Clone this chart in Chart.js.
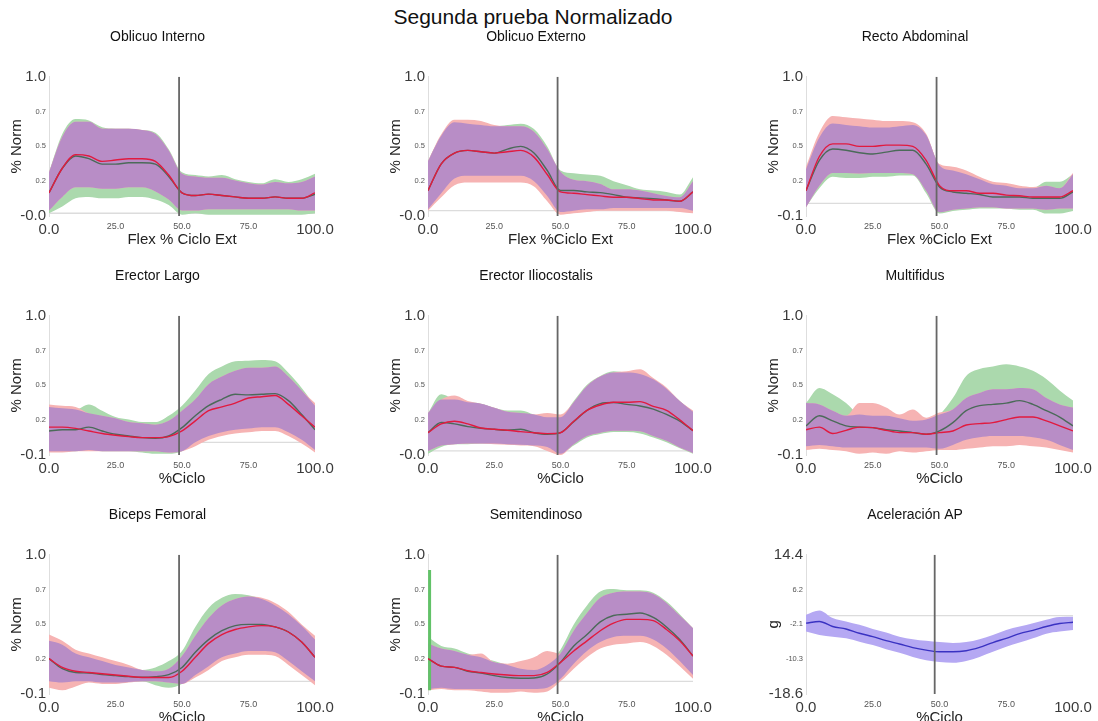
<!DOCTYPE html>
<html>
<head>
<meta charset="utf-8">
<script src="https://cdn.jsdelivr.net/npm/chart.js@4.4.1/dist/chart.umd.min.js"></script>
<style>
  body { margin: 0; background: #fff; width: 1098px; height: 721px; overflow: hidden; position: relative;
         font-family: "Liberation Sans", Arial, sans-serif; }
  #titulo { position: absolute; left: 0; width: 1066px; top: 5px; line-height: 24px; text-align: center;
            font-size: 21px; color: #111; }
  canvas { position: absolute; }
</style>
</head>
<body>
<div id="titulo">Segunda prueba Normalizado</div>
<script>
// % del ciclo (eje x)
const xs = [0, 5, 10, 15, 20, 25, 30, 35, 40, 45, 50, 55, 60, 65, 70, 75, 80, 85, 90, 95, 100];
const xTicks = [0, 25, 50, 75, 100];

// ticks del eje y
const ticksOI = [-0.02, 0.235, 0.49, 0.745, 1.0];
const ticksOE = [-0.04, 0.22, 0.48, 0.74, 1.0];
const ticksEI = [-0.03, 0.2275, 0.485, 0.7425, 1.0];
const ticksN = [-0.1, 0.175, 0.45, 0.725, 1.0];
const ticksAC = [-18.6, -10.35, -2.1, 6.15, 14.4];

// linea de evento (cambio flex/ext)
const eventX = [48.9, 48.9, 48.9, 48.9, 48.9, 48.9, 48.9, 48.9, 48.2];

// Oblicuo Interno
const oiGMean = [0.15,0.33,0.42,0.40,0.36,0.36,0.37,0.37,0.36,0.27,0.15,0.13,0.14,0.13,0.12,0.11,0.11,0.12,0.11,0.11,0.14];
const oiGHi   = [0.30,0.58,0.69,0.68,0.63,0.62,0.62,0.61,0.59,0.47,0.30,0.28,0.27,0.28,0.25,0.23,0.22,0.25,0.23,0.25,0.29];
const oiGLo   = [0.00,0.05,0.11,0.12,0.11,0.11,0.12,0.12,0.10,0.06,-0.01,0.00,-0.01,-0.01,-0.01,-0.01,-0.01,-0.01,-0.01,-0.01,0.00];
const oiRMean = [0.15,0.33,0.43,0.42,0.38,0.39,0.40,0.40,0.38,0.28,0.15,0.13,0.14,0.13,0.12,0.11,0.11,0.12,0.11,0.11,0.15];
const oiRHi   = [0.30,0.56,0.67,0.67,0.62,0.62,0.62,0.61,0.58,0.46,0.29,0.27,0.26,0.26,0.24,0.22,0.21,0.23,0.22,0.23,0.27];
const oiRLo   = [0.02,0.12,0.19,0.19,0.18,0.18,0.19,0.19,0.16,0.10,0.02,0.02,0.03,0.03,0.03,0.03,0.03,0.03,0.03,0.02,0.02];

// Oblicuo Externo
const oeGMean = [0.15,0.35,0.43,0.45,0.44,0.43,0.46,0.48,0.43,0.30,0.15,0.15,0.14,0.135,0.12,0.10,0.095,0.09,0.08,0.07,0.14];
const oeGHi   = [0.37,0.56,0.66,0.65,0.64,0.63,0.64,0.65,0.61,0.48,0.30,0.28,0.27,0.26,0.22,0.19,0.16,0.15,0.14,0.12,0.25];
const oeGLo   = [0.01,0.13,0.24,0.26,0.26,0.26,0.26,0.26,0.22,0.11,-0.01,0.00,0.01,0.01,0.02,0.02,0.02,0.02,0.02,0.02,0.00];
const oeRMean = [0.15,0.35,0.43,0.45,0.44,0.43,0.44,0.45,0.40,0.27,0.14,0.13,0.12,0.11,0.10,0.10,0.09,0.08,0.08,0.07,0.14];
const oeRHi   = [0.37,0.57,0.68,0.68,0.67,0.64,0.63,0.63,0.59,0.46,0.29,0.23,0.22,0.20,0.16,0.16,0.15,0.13,0.11,0.10,0.22];
const oeRLo   = [0.00,0.10,0.19,0.21,0.21,0.21,0.21,0.21,0.18,0.07,-0.03,-0.02,-0.01,0.00,0.00,0.00,0.00,0.00,0.00,-0.01,-0.02];

// Recto Abdominal
const raGMean = [0.10,0.34,0.43,0.42,0.40,0.39,0.405,0.42,0.42,0.31,0.13,0.09,0.08,0.07,0.05,0.05,0.05,0.04,0.04,0.04,0.09];
const raGHi   = [0.27,0.52,0.63,0.62,0.61,0.60,0.60,0.61,0.62,0.54,0.30,0.26,0.23,0.19,0.15,0.14,0.12,0.12,0.17,0.17,0.23];
const raGLo   = [-0.03,0.12,0.21,0.20,0.20,0.21,0.21,0.22,0.22,0.08,-0.08,-0.06,-0.05,-0.04,-0.04,-0.04,-0.05,-0.05,-0.08,-0.08,-0.06];
const raRMean = [0.10,0.37,0.47,0.47,0.45,0.45,0.46,0.46,0.45,0.34,0.14,0.10,0.10,0.08,0.08,0.065,0.06,0.05,0.05,0.05,0.10];
const raRHi   = [0.29,0.56,0.69,0.68,0.67,0.66,0.65,0.65,0.64,0.55,0.31,0.29,0.26,0.21,0.17,0.16,0.14,0.13,0.14,0.12,0.24];
const raRLo   = [-0.03,0.14,0.24,0.24,0.235,0.24,0.24,0.24,0.23,0.10,-0.07,-0.05,-0.04,-0.03,-0.03,-0.04,-0.04,-0.04,-0.05,-0.04,-0.04];

// Erector Largo
const elGMean = [0.09,0.10,0.10,0.12,0.09,0.064,0.05,0.037,0.032,0.05,0.116,0.21,0.29,0.34,0.38,0.375,0.38,0.385,0.33,0.22,0.10];
const elGHi   = [0.28,0.27,0.26,0.30,0.25,0.20,0.18,0.16,0.16,0.21,0.29,0.41,0.54,0.60,0.64,0.645,0.65,0.64,0.55,0.43,0.29];
const elGLo   = [-0.07,-0.07,-0.07,-0.06,-0.07,-0.07,-0.07,-0.08,-0.09,-0.09,-0.07,0.00,0.05,0.08,0.10,0.11,0.12,0.12,0.08,0.02,-0.06];
const elRMean = [0.12,0.12,0.11,0.09,0.07,0.056,0.045,0.037,0.037,0.045,0.09,0.17,0.25,0.28,0.31,0.35,0.36,0.37,0.30,0.21,0.12];
const elRHi   = [0.30,0.29,0.28,0.23,0.21,0.19,0.16,0.15,0.14,0.17,0.25,0.34,0.46,0.52,0.565,0.59,0.59,0.60,0.52,0.41,0.31];
const elRLo   = [-0.08,-0.08,-0.07,-0.07,-0.07,-0.07,-0.07,-0.07,-0.07,-0.08,-0.07,-0.03,0.02,0.05,0.07,0.08,0.09,0.09,0.05,-0.01,-0.08];

// Erector Iliocostalis
const eiGMean = [0.135,0.21,0.20,0.18,0.168,0.16,0.153,0.16,0.135,0.123,0.135,0.217,0.30,0.35,0.358,0.345,0.333,0.31,0.27,0.22,0.15];
const eiGHi   = [0.28,0.42,0.38,0.36,0.35,0.32,0.30,0.30,0.27,0.25,0.25,0.37,0.49,0.555,0.59,0.58,0.57,0.53,0.46,0.37,0.29];
const eiGLo   = [-0.02,0.03,0.05,0.05,0.055,0.055,0.05,0.045,0.04,0.03,-0.02,0.04,0.10,0.125,0.14,0.14,0.13,0.10,0.065,0.02,-0.02];
const eiRMean = [0.135,0.20,0.22,0.20,0.17,0.16,0.153,0.143,0.135,0.128,0.135,0.22,0.30,0.34,0.36,0.36,0.365,0.33,0.30,0.23,0.15];
const eiRHi   = [0.28,0.38,0.41,0.37,0.35,0.32,0.29,0.28,0.27,0.28,0.27,0.36,0.48,0.55,0.58,0.59,0.605,0.54,0.47,0.37,0.30];
const eiRLo   = [0.00,0.04,0.05,0.055,0.055,0.05,0.045,0.04,0.035,0.00,-0.03,0.05,0.11,0.135,0.15,0.15,0.145,0.11,0.075,0.025,-0.015];

// Multifidus
const mfGMean = [0.13,0.21,0.17,0.13,0.12,0.116,0.10,0.09,0.077,0.064,0.09,0.156,0.25,0.29,0.30,0.31,0.33,0.30,0.25,0.20,0.13];
const mfGHi   = [0.31,0.43,0.38,0.31,0.22,0.21,0.21,0.19,0.17,0.18,0.22,0.35,0.525,0.58,0.60,0.617,0.60,0.565,0.50,0.41,0.33];
const mfGLo   = [-0.03,-0.02,-0.03,-0.04,-0.04,-0.04,-0.04,-0.04,-0.04,-0.04,-0.05,-0.02,0.02,0.04,0.05,0.05,0.05,0.04,0.02,-0.02,-0.06];
const mfRMean = [0.10,0.12,0.07,0.095,0.12,0.116,0.095,0.077,0.077,0.064,0.077,0.09,0.137,0.148,0.156,0.18,0.20,0.20,0.17,0.13,0.09];
const mfRHi   = [0.31,0.30,0.25,0.21,0.31,0.31,0.275,0.22,0.26,0.195,0.235,0.26,0.35,0.39,0.42,0.42,0.43,0.42,0.35,0.30,0.275];
const mfRLo   = [-0.06,-0.05,-0.06,-0.07,-0.09,-0.08,-0.09,-0.07,-0.08,-0.07,-0.06,-0.06,-0.05,-0.04,-0.03,-0.03,-0.02,-0.03,-0.04,-0.06,-0.08];

// Biceps Femoral
const bfGMean = [0.18,0.10,0.07,0.066,0.053,0.045,0.037,0.032,0.037,0.053,0.11,0.23,0.33,0.40,0.44,0.45,0.45,0.43,0.39,0.31,0.19];
const bfGHi   = [0.32,0.29,0.22,0.19,0.16,0.13,0.11,0.09,0.11,0.16,0.24,0.43,0.58,0.66,0.69,0.68,0.65,0.60,0.53,0.44,0.33];
const bfGLo   = [0.00,-0.01,0.00,0.00,-0.01,-0.01,-0.005,0.00,-0.03,-0.05,-0.02,0.05,0.12,0.19,0.22,0.24,0.24,0.23,0.16,0.08,0.00];
const bfRMean = [0.18,0.11,0.08,0.07,0.06,0.05,0.04,0.03,0.03,0.03,0.08,0.19,0.30,0.37,0.41,0.43,0.44,0.43,0.39,0.31,0.19];
const bfRHi   = [0.37,0.32,0.25,0.22,0.19,0.16,0.13,0.09,0.08,0.10,0.20,0.36,0.50,0.60,0.65,0.67,0.66,0.62,0.55,0.45,0.36];
const bfRLo   = [-0.05,-0.07,-0.04,-0.01,-0.02,-0.02,-0.01,0.00,0.00,-0.01,-0.02,0.03,0.09,0.16,0.19,0.21,0.21,0.20,0.13,0.05,-0.03];

// Semitendinoso
const stGMean = [0.18,0.12,0.11,0.08,0.066,0.045,0.03,0.024,0.026,0.058,0.15,0.28,0.37,0.47,0.52,0.53,0.54,0.505,0.43,0.33,0.20];
const stGHi   = [0.35,0.28,0.26,0.22,0.19,0.16,0.13,0.10,0.09,0.13,0.25,0.45,0.60,0.71,0.73,0.72,0.72,0.70,0.63,0.53,0.42];
const stGLo   = [-0.06,-0.05,-0.06,-0.06,-0.06,-0.06,-0.06,-0.06,-0.06,-0.05,0.02,0.14,0.24,0.31,0.35,0.36,0.36,0.33,0.26,0.16,0.05];
const stRMean = [0.18,0.12,0.11,0.084,0.07,0.058,0.05,0.045,0.045,0.07,0.15,0.24,0.32,0.40,0.46,0.49,0.49,0.48,0.41,0.32,0.20];
const stRHi   = [0.30,0.26,0.24,0.21,0.22,0.15,0.14,0.16,0.19,0.24,0.22,0.40,0.54,0.66,0.70,0.71,0.71,0.69,0.62,0.52,0.42];
const stRLo   = [-0.07,-0.06,-0.07,-0.07,-0.08,-0.09,-0.09,-0.08,-0.09,-0.08,0.00,0.10,0.19,0.26,0.29,0.30,0.31,0.28,0.21,0.12,0.02];
// pico verde al inicio
const stSpikeX = [0.6, 0.6];
const stSpikeY = [-0.07, 0.88];

// Aceleración AP
const acMean = [-1.8,-1.4,-2.6,-3.2,-4.2,-5.0,-5.95,-6.75,-7.6,-8.2,-8.6,-8.6,-8.35,-7.55,-6.4,-5.4,-4.3,-3.5,-2.6,-1.9,-1.6];
const acHi   = [0.2,1.2,-0.6,-1.4,-2.2,-3.2,-4.0,-5.0,-5.6,-6.0,-6.3,-6.5,-6.3,-5.6,-4.6,-3.4,-2.6,-1.8,-1.0,-0.34,-0.3];
const acLo   = [-3.8,-4.6,-5.0,-5.4,-6.2,-7.0,-8.0,-8.8,-9.8,-10.6,-11.0,-11.2,-10.75,-9.8,-8.6,-7.4,-6.4,-5.4,-4.3,-3.8,-3.4];

const FONT = '"Liberation Sans", Arial, sans-serif';
Chart.defaults.font.family = FONT;

const panels = [
  { title: 'Oblicuo Interno', xLabel: 'Flex % Ciclo Ext', yLabel: '% Norm', ticks: ticksOI,
    g: [oiGMean, oiGHi, oiGLo], r: [oiRMean, oiRHi, oiRLo] },
  { title: 'Oblicuo Externo', xLabel: 'Flex %Ciclo Ext', yLabel: '% Norm', ticks: ticksOE,
    g: [oeGMean, oeGHi, oeGLo], r: [oeRMean, oeRHi, oeRLo] },
  { title: 'Recto Abdominal', xLabel: 'Flex %Ciclo Ext', yLabel: '% Norm', ticks: ticksN,
    g: [raGMean, raGHi, raGLo], r: [raRMean, raRHi, raRLo] },
  { title: 'Erector Largo', xLabel: '%Ciclo', yLabel: '% Norm', ticks: ticksN,
    g: [elGMean, elGHi, elGLo], r: [elRMean, elRHi, elRLo] },
  { title: 'Erector Iliocostalis', xLabel: '%Ciclo', yLabel: '% Norm', ticks: ticksEI,
    g: [eiGMean, eiGHi, eiGLo], r: [eiRMean, eiRHi, eiRLo] },
  { title: 'Multifidus', xLabel: '%Ciclo', yLabel: '% Norm', ticks: ticksN,
    g: [mfGMean, mfGHi, mfGLo], r: [mfRMean, mfRHi, mfRLo] },
  { title: 'Biceps Femoral', xLabel: '%Ciclo', yLabel: '% Norm', ticks: ticksN,
    g: [bfGMean, bfGHi, bfGLo], r: [bfRMean, bfRHi, bfRLo] },
  { title: 'Semitendinoso', xLabel: '%Ciclo', yLabel: '% Norm', ticks: ticksN,
    g: [stGMean, stGHi, stGLo], r: [stRMean, stRHi, stRLo], spike: true },
  { title: 'Aceleración AP', xLabel: '%Ciclo', yLabel: 'g', ticks: ticksAC,
    acc: [acMean, acHi, acLo] }
];

// colores
const C_GREEN_BAND = '#abd9ad';
const C_RED_BAND = '#f6b3b3';
const C_OVERLAP = '#b88dc6';
const C_GREEN_LINE = '#4b6a59';
const C_RED_LINE = '#e11a3f';
const C_ACC_BAND = '#b5a8f3';
const C_ACC_LINE = '#3a32c2';

// posicion de cada lienzo
const colLeft = [0, 379, 757];
const colWidth = [364, 363, 365];
const rowTop = [24, 263, 502];
const CANVAS_H = 225;

const pts = ys => xs.map((x, i) => ({ x: x, y: ys[i] }));

function line(ys, color, width, order) {
  return { data: pts(ys), borderColor: color, borderWidth: width, pointRadius: 0,
           cubicInterpolationMode: 'monotone', fill: false, order: order };
}
function bandPair(hi, lo, color, order) {
  return [
    { data: pts(hi), borderWidth: 0, borderColor: 'transparent', backgroundColor: color,
      pointRadius: 0, cubicInterpolationMode: 'monotone', fill: '+1', order: order },
    { data: pts(lo), borderWidth: 0, borderColor: 'transparent', pointRadius: 0,
      cubicInterpolationMode: 'monotone', fill: false, order: order }
  ];
}

function buildDatasets(p, idx) {
  const t = p.ticks;
  let ds = [];
  if (p.acc) {
    ds = ds.concat(bandPair(p.acc[1], p.acc[2], C_ACC_BAND, 5));
    ds.push(line(p.acc[0], C_ACC_LINE, 1.4, 2));
  } else {
    const [gm, gh, gl] = p.g;
    const [rm, rh, rl] = p.r;
    const oh = gh.map((v, i) => Math.min(v, rh[i]));
    const ol = gl.map((v, i) => Math.min(Math.max(v, rl[i]), oh[i]));
    ds = ds.concat(bandPair(gh, gl, C_GREEN_BAND, 6));
    ds = ds.concat(bandPair(rh, rl, C_RED_BAND, 5));
    ds = ds.concat(bandPair(oh, ol, C_OVERLAP, 4));
    ds.push(line(gm, C_GREEN_LINE, 1.4, 3));
    ds.push(line(rm, C_RED_LINE, 1.4, 2));
    if (p.spike) {
      ds.push({ data: stSpikeX.map((x, i) => ({ x: x, y: stSpikeY[i] })), borderColor: '#62c268',
                borderWidth: 3, pointRadius: 0, fill: false, order: 3.5 });
    }
  }
  // linea vertical del evento
  ds.push({ data: [{ x: eventX[idx], y: t[0] }, { x: eventX[idx], y: t[t.length - 1] }],
            borderColor: '#666', borderWidth: 1.8, pointRadius: 0, fill: false, order: 1 });
  // linea del cero
  ds.push({ data: [{ x: xTicks[0], y: 0 }, { x: xTicks[xTicks.length - 1], y: 0 }],
            borderColor: '#dcdcdc', borderWidth: 1.3, pointRadius: 0, fill: false, order: 7 });
  return ds;
}

panels.forEach((p, idx) => {
  const col = idx % 3, row = Math.floor(idx / 3);
  const cv = document.createElement('canvas');
  cv.width = colWidth[col];
  cv.height = CANVAS_H;
  cv.style.left = colLeft[col] + 'px';
  cv.style.top = rowTop[row] + 'px';
  cv.style.width = colWidth[col] + 'px';
  cv.style.height = CANVAS_H + 'px';
  document.body.appendChild(cv);

  const t = p.ticks;
  const endY = c => c.index === 0 || c.index === t.length - 1;
  const endX = c => c.index === 0 || c.index === xTicks.length - 1;

  new Chart(cv.getContext('2d'), {
    type: 'line',
    data: { datasets: buildDatasets(p, idx) },
    options: {
      responsive: false,
      animation: false,
      events: [],
      layout: { padding: { left: 0, right: 49, top: 0, bottom: 0 } },
      plugins: {
        legend: { display: false },
        tooltip: { enabled: false },
        title: { display: true, text: p.title, color: '#111',
                 font: { size: 14, weight: 'normal' }, padding: { top: 5, bottom: 31 } }
      },
      scales: {
        x: {
          type: 'linear', min: xTicks[0], max: xTicks[xTicks.length - 1],
          grid: { display: false, drawTicks: false },
          border: { display: false },
          afterBuildTicks: s => { s.ticks = xTicks.map(v => ({ value: v })); },
          afterFit: s => { s.height = 33; },
          ticks: {
            autoSkip: false, maxRotation: 0, padding: 5,
            callback: v => Number(v).toFixed(1),
            color: c => endX(c) ? '#3a3a3a' : '#555',
            font: c => ({ size: endX(c) ? 15 : 9, family: FONT })
          },
          title: { display: true, text: p.xLabel, color: '#222',
                   font: { size: 15 }, padding: { top: 0, bottom: 0 } }
        },
        y: {
          min: t[0], max: t[t.length - 1],
          grid: { display: false, drawTicks: false },
          border: { display: true, color: '#dedede', width: 1 },
          afterBuildTicks: s => { s.ticks = t.map(v => ({ value: v })); },
          afterFit: s => { s.width = 49; },
          ticks: {
            autoSkip: false, padding: 3,
            callback: v => Number(v).toFixed(1),
            color: c => endY(c) ? '#3a3a3a' : '#555',
            font: c => ({ size: endY(c) ? 15 : 7.5, family: FONT })
          },
          title: { display: true, text: p.yLabel, color: '#222',
                   font: { size: 15 }, padding: { top: 8, bottom: 0 } }
        }
      }
    }
  });
});
</script>
</body>
</html>
